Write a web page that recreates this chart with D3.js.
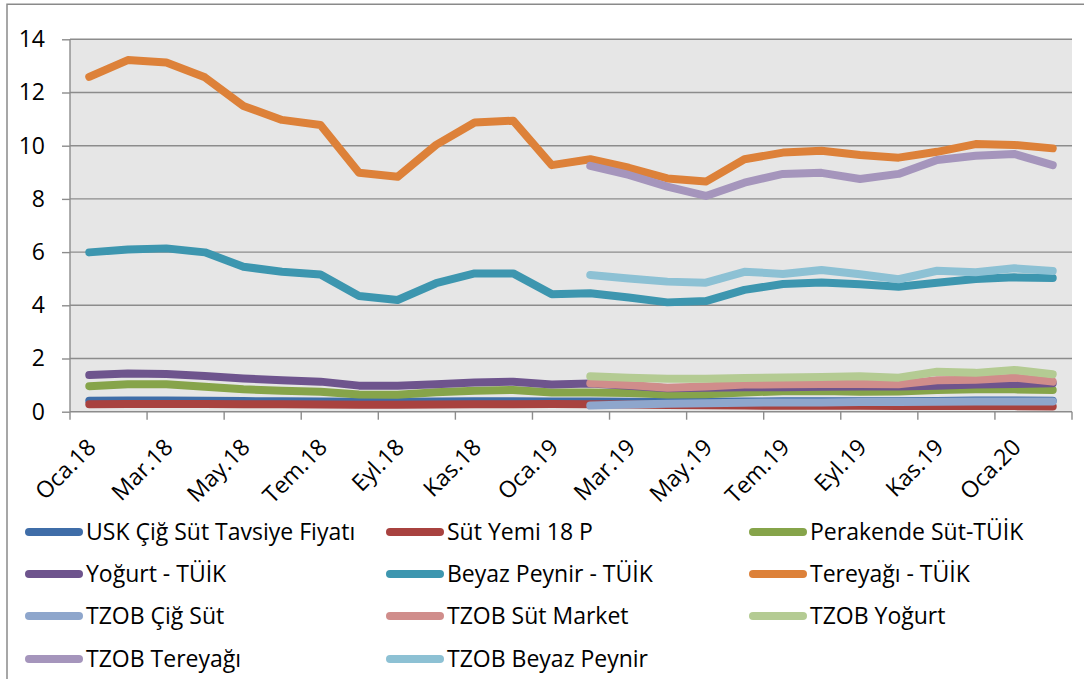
<!DOCTYPE html>
<html><head><meta charset="utf-8">
<script src="https://cdn.jsdelivr.net/npm/d3@7"></script>
<style>
html,body{margin:0;padding:0;background:#fff;}
svg{display:block;font-family:"Open Sans",Lato,sans-serif;}
</style></head>
<body><svg id="chart" width="1084" height="679"></svg>
<script>
const categories = ["Oca.18","Şub.18","Mar.18","Nis.18","May.18","Haz.18","Tem.18","Ağu.18","Eyl.18","Eki.18","Kas.18","Ara.18",
  "Oca.19","Şub.19","Mar.19","Nis.19","May.19","Haz.19","Tem.19","Ağu.19","Eyl.19","Eki.19","Kas.19","Ara.19","Oca.20","Şub.20"];
const yTicks = [0,2,4,6,8,10,12,14];
const N = null;
const uskCigSut      = [0.41,0.42,0.42,0.41,0.40,0.39,0.38,0.37,0.37,0.38,0.39,0.39,0.38,0.38,0.37,0.36,0.37,0.38,0.39,0.39,0.39,0.39,0.40,0.42,0.42,0.41];
const sutYemi        = [0.28,0.29,0.29,0.29,0.28,0.28,0.27,0.26,0.26,0.27,0.28,0.28,0.29,0.28,0.27,0.25,0.24,0.23,0.22,0.22,0.22,0.21,0.21,0.21,0.21,0.20];
const perakendeSut   = [0.96,1.03,1.03,0.94,0.84,0.79,0.75,0.65,0.64,0.73,0.79,0.82,0.72,0.72,0.70,0.65,0.66,0.72,0.77,0.78,0.75,0.76,0.82,0.84,0.84,0.82];
const yogurtTUIK     = [1.38,1.44,1.42,1.34,1.25,1.18,1.13,0.98,0.98,1.03,1.10,1.13,1.02,1.06,0.98,0.88,0.90,0.92,0.92,0.94,0.95,0.95,0.98,1.02,1.04,1.07];
const beyazPeynirTUIK= [5.99,6.10,6.14,5.99,5.45,5.26,5.16,4.35,4.20,4.83,5.20,5.20,4.42,4.45,4.29,4.11,4.16,4.58,4.80,4.86,4.79,4.70,4.85,4.99,5.05,5.03];
const tereyagiTUIK   = [12.59,13.22,13.13,12.57,11.49,10.97,10.78,8.98,8.83,10.03,10.87,10.94,9.27,9.49,9.17,8.77,8.65,9.49,9.74,9.81,9.65,9.55,9.77,10.06,10.03,9.90];
const tzobCigSut     = [N,N,N,N,N,N,N,N,N,N,N,N,N,0.23,0.27,0.30,0.32,0.34,0.35,0.35,0.36,0.36,0.37,0.38,0.38,0.38];
const tzobSutMarket  = [N,N,N,N,N,N,N,N,N,N,N,N,N,1.07,1.00,0.90,0.95,1.02,1.03,1.04,1.04,1.03,1.18,1.20,1.28,1.13];
const tzobYogurt     = [N,N,N,N,N,N,N,N,N,N,N,N,N,1.33,1.28,1.24,1.24,1.27,1.29,1.30,1.33,1.28,1.50,1.46,1.57,1.41];
const tzobTereyagi   = [N,N,N,N,N,N,N,N,N,N,N,N,N,9.24,8.90,8.46,8.11,8.61,8.94,8.98,8.75,8.94,9.46,9.62,9.69,9.27];
const tzobBeyazPeynir= [N,N,N,N,N,N,N,N,N,N,N,N,N,5.14,5.01,4.89,4.85,5.26,5.18,5.33,5.17,4.98,5.30,5.24,5.39,5.29];

const seriesNames = ["USK Çiğ Süt Tavsiye Fiyatı","Süt Yemi 18 P","Perakende Süt-TÜİK","Yoğurt - TÜİK","Beyaz Peynir - TÜİK","Tereyağı - TÜİK",
  "TZOB Çiğ Süt","TZOB Süt Market","TZOB Yoğurt","TZOB Tereyağı","TZOB Beyaz Peynir"];
const seriesValues = [uskCigSut,sutYemi,perakendeSut,yogurtTUIK,beyazPeynirTUIK,tereyagiTUIK,tzobCigSut,tzobSutMarket,tzobYogurt,tzobTereyagi,tzobBeyazPeynir];
const seriesColors = ["#3F6DA8","#A8423F","#86A44A","#6E548D","#3D96AF","#DD8139","#8EA6CC","#D08D8B","#B4CB93","#A595BC","#8DC1D4"];

const svg = d3.select("#chart");
const L = 70, R = 1072, T = 39.3, B = 411.7;
const FS = 23;

svg.append("path").attr("d","M7,679V4.3H1084").attr("fill","none").attr("stroke","#8a8a8a").attr("stroke-width",1.5);
svg.append("rect").attr("x",L).attr("y",T).attr("width",R-L).attr("height",B-T).attr("fill","#E6E6E6");

const x = d3.scaleBand().domain(categories).range([L,R]).padding(0);
const y = d3.scaleLinear().domain([0,14]).range([B,T]);
const cx = c => x(c) + x.bandwidth()/2;

svg.append("g").selectAll("line").data(yTicks.filter(t=>t>0)).join("line")
  .attr("x1",L).attr("x2",R).attr("y1",d=>y(d)).attr("y2",d=>y(d))
  .attr("stroke","#8c8c8c").attr("stroke-width",1.4);

const yAxis = svg.append("g").attr("transform",`translate(${L},0)`)
  .call(d3.axisLeft(y).tickValues(yTicks).tickSize(8).tickPadding(17).tickFormat(d3.format("d")));
yAxis.select(".domain").attr("stroke","#8c8c8c").attr("stroke-width",1.4).attr("d",`M0,${T}V${B}`);
yAxis.selectAll(".tick line").attr("stroke","#8c8c8c").attr("stroke-width",1.4);
yAxis.selectAll("text").attr("font-size",FS).attr("fill","#000").attr("font-family","\"Open Sans\",Lato,sans-serif");

const tickPos = categories.map((c,i)=>i).filter(i=>i%2===0).map(i=>x(categories[i])).concat([R]);
const xg = svg.append("g");
xg.append("line").attr("x1",L).attr("x2",R).attr("y1",B).attr("y2",B).attr("stroke","#8c8c8c").attr("stroke-width",1.4);
xg.selectAll("line.t").data(tickPos).join("line").attr("class","t")
  .attr("x1",d=>d).attr("x2",d=>d).attr("y1",B).attr("y2",B+8).attr("stroke","#8c8c8c").attr("stroke-width",1.4);
xg.selectAll("text").data(categories.filter((c,i)=>i%2===0)).join("text")
  .attr("transform",d=>`translate(${cx(d)+8},${B+37}) rotate(-45)`)
  .attr("text-anchor","end").attr("font-size",FS).attr("fill","#000")
  .text(d=>d);

const line = d3.line().defined(d=>d.v!==null).x(d=>cx(d.c)).y(d=>y(d.v));
seriesValues.forEach((vals,k)=>{
  svg.append("path").datum(vals.map((v,i)=>({c:categories[i],v})))
    .attr("d",line).attr("fill","none").attr("stroke",seriesColors[k])
    .attr("stroke-width",8).attr("stroke-linecap","round").attr("stroke-linejoin","round");
});

const colX = [25,386,749], rowY = [532,574,616,659];
const lg = svg.append("g");
seriesNames.forEach((name,k)=>{
  const gx = colX[k%3], gy = rowY[Math.floor(k/3)];
  lg.append("line").attr("x1",gx+4).attr("x2",gx+54).attr("y1",gy).attr("y2",gy)
    .attr("stroke",seriesColors[k]).attr("stroke-width",8).attr("stroke-linecap","round");
  lg.append("text").attr("x",gx+61).attr("y",gy).attr("dy","0.35em").attr("font-size",FS).attr("fill","#000").text(name);
});
</script></body></html>
